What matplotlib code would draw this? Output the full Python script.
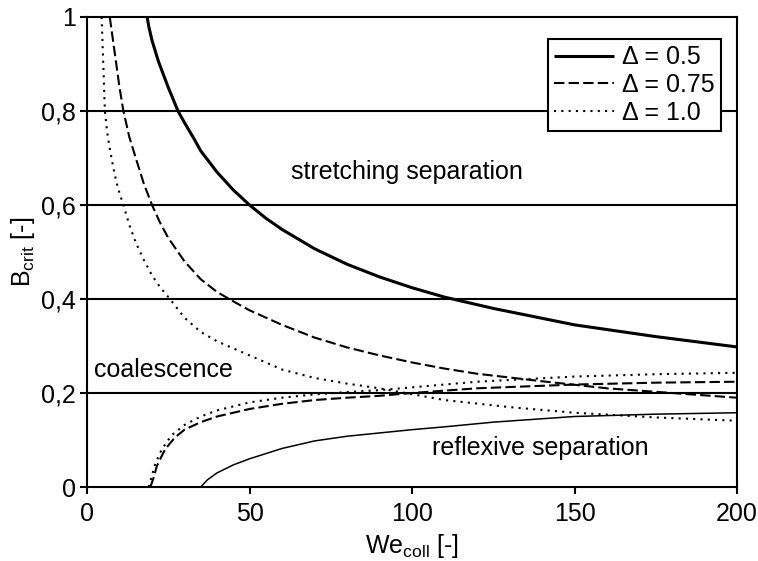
import numpy as np
import matplotlib
matplotlib.use('Agg')
import matplotlib.pyplot as plt

plt.rcParams['font.family'] = ['Liberation Sans', 'DejaVu Sans']

## upper limit curves (stretching separation)
we_s05 = [18.5, 19, 20, 22, 25, 28, 30, 33, 35, 40, 45, 50, 55, 60, 70, 80, 90, 100, 110, 125, 150, 175, 200]
b_s05 = [1.0, 0.98, 0.95, 0.905, 0.85, 0.80, 0.775, 0.74, 0.715, 0.67, 0.632, 0.6, 0.572, 0.548, 0.507, 0.474,
         0.447, 0.424, 0.404, 0.38, 0.345, 0.32, 0.298]

we_s075 = [7, 8, 9, 10, 11.2, 13, 15, 17.5, 20, 22.5, 25, 30, 35, 40, 45, 50, 60, 70, 80, 90, 100, 110, 120,
           140, 160, 180, 200]
b_s075 = [1.0, 0.95, 0.9, 0.85, 0.8, 0.745, 0.7, 0.645, 0.6, 0.562, 0.53, 0.48, 0.442, 0.415, 0.395, 0.376,
          0.345, 0.318, 0.297, 0.28, 0.265, 0.252, 0.241, 0.225, 0.21, 0.2, 0.19]

we_s10 = [4.5, 5, 5.5, 6.2, 7, 8, 9, 10, 11.2, 13, 15, 17.5, 20, 22.5, 25.5, 30, 35, 40, 44, 50, 60, 70, 80, 90,
          110, 130, 150, 175, 200]
b_s10 = [1.0, 0.9, 0.8, 0.755, 0.72, 0.683, 0.65, 0.625, 0.6, 0.558, 0.52, 0.483, 0.45, 0.425, 0.4, 0.36, 0.33,
         0.31, 0.298, 0.28, 0.25, 0.232, 0.22, 0.21, 0.185, 0.17, 0.158, 0.148, 0.141]

## lower limit curves (reflexive separation)
we_r05 = [35, 37, 40, 45, 50, 60, 70, 80, 90, 100, 110, 125, 150, 175, 200]
b_r05 = [0.0, 0.015, 0.03, 0.047, 0.06, 0.082, 0.098, 0.108, 0.115, 0.122, 0.128, 0.138, 0.15, 0.155, 0.158]

we_r075 = [19.5, 20.5, 21.5, 24, 27, 30, 35, 40, 50, 60, 70, 80, 90, 100, 120, 150, 175, 200]
b_r075 = [0.0, 0.02, 0.045, 0.08, 0.105, 0.122, 0.138, 0.15, 0.166, 0.177, 0.185, 0.19, 0.194, 0.2, 0.21,
          0.218, 0.222, 0.224]

we_r10 = [19, 20, 21, 23, 26, 30, 35, 40, 50, 60, 70, 80, 90, 100, 120, 150, 175, 200]
b_r10 = [0.0, 0.025, 0.05, 0.08, 0.11, 0.132, 0.15, 0.163, 0.18, 0.19, 0.197, 0.202, 0.206, 0.212, 0.224,
         0.235, 0.24, 0.243]

xticks = [0, 50, 100, 150, 200]
yticks = [0, 0.2, 0.4, 0.6, 0.8, 1.0]
ytick_labels = ['0', '0,2', '0,4', '0,6', '0,8', '1']

fs = 18

fig = plt.figure(figsize=(7.58, 5.61), dpi=100)
ax = fig.add_axes([0.1148, 0.1319, 0.8575, 0.8378])

## horizontal grid lines
for yv in yticks[1:-1]:
    ax.axhline(yv, color='black', lw=1.5, zorder=1)

dash = (5, 2)
dot = (1, 2.5)

l1, = ax.plot(we_s05, b_s05, color='black', lw=2.2, solid_capstyle='butt', zorder=3)
l2, = ax.plot(we_s075, b_s075, color='black', lw=1.5, dashes=dash, zorder=3)
l3, = ax.plot(we_s10, b_s10, color='black', lw=1.5, dashes=dot, zorder=3)
ax.plot(we_r05, b_r05, color='black', lw=1.1, zorder=3)
ax.plot(we_r075, b_r075, color='black', lw=1.5, dashes=dash, zorder=3)
ax.plot(we_r10, b_r10, color='black', lw=1.5, dashes=dot, zorder=3)

ax.set_xlim(0, 200)
ax.set_ylim(0, 1)
ax.set_xticks(xticks)
ax.set_yticks(yticks)
ax.set_yticklabels(ytick_labels)
ax.tick_params(direction='out', length=5, width=1.5, labelsize=fs, colors='black')
ax.tick_params(axis='x', pad=6)
ax.tick_params(axis='y', pad=3)
for sp in ax.spines.values():
    sp.set_linewidth(1.5)
    sp.set_color('black')

ax.set_xlabel('We$_{\\mathregular{coll}}$ [-]', fontsize=fs, labelpad=4)
ax.set_ylabel('B$_{\\mathregular{crit}}$ [-]', fontsize=fs, labelpad=3)

## region labels
ax.text(98.3, 0.67, 'stretching separation', fontsize=fs, ha='center', va='center', zorder=4)
ax.text(2.2, 0.249, 'coalescence', fontsize=fs, ha='left', va='center', zorder=4)
ax.text(139.5, 0.084, 'reflexive separation', fontsize=fs, ha='center', va='center', zorder=4)

leg = ax.legend([l1, l2, l3], ['\u0394 = 0.5', '\u0394 = 0.75', '\u0394 = 1.0'],
                loc='upper right', bbox_to_anchor=(0.975, 0.953), fontsize=fs, fancybox=False,
                framealpha=1, edgecolor='black', handlelength=2.4, handletextpad=0.3,
                labelspacing=0.15, borderpad=0.25, borderaxespad=0)
leg.get_frame().set_linewidth(1.5)
leg.set_zorder(5)

fig.savefig('out.png', dpi=100, facecolor='white')
